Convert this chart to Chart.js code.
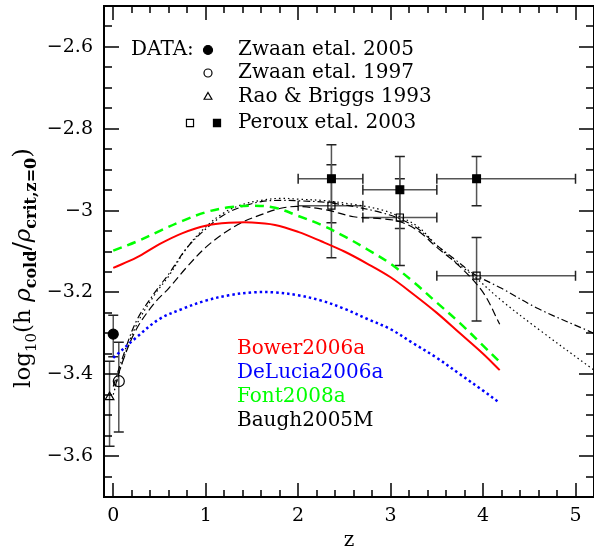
<!DOCTYPE html>
<html>
<head>
<meta charset="utf-8">
<script src="https://cdn.jsdelivr.net/npm/chart.js@4.4.0/dist/chart.umd.min.js"></script>
<style>
  html, body { margin: 0; padding: 0; background: #fff; }
</style>
</head>
<body>
<canvas id="chart" width="594" height="550"></canvas>
<script>
// model curves
const modelZ   = [0, 0.25, 0.5, 0.75, 1, 1.25, 1.5, 1.75, 2, 2.25, 2.5, 2.75, 3, 3.25, 3.5, 3.75, 4, 4.18];
const bowerV   = [-3.14, -3.115, -3.082, -3.055, -3.037, -3.03, -3.029, -3.035, -3.052, -3.075, -3.10, -3.13, -3.163, -3.205, -3.25, -3.30, -3.35, -3.39];
const deluciaV = [-3.36, -3.31, -3.265, -3.24, -3.22, -3.207, -3.2, -3.2, -3.207, -3.22, -3.24, -3.265, -3.29, -3.325, -3.36, -3.40, -3.44, -3.47];
const fontV    = [-3.098, -3.076, -3.05, -3.025, -3.004, -2.992, -2.988, -2.993, -3.013, -3.035, -3.063, -3.095, -3.13, -3.175, -3.225, -3.275, -3.33, -3.37];

// Baugh2005M, three black variants
const baughZ        = [0, 0.1, 0.25, 0.45, 0.6, 0.8, 1.0, 1.2, 1.4, 1.6, 1.8, 2.0, 2.3, 2.6, 2.9, 3.1, 3.3, 3.5, 3.7, 3.9, 4.2, 4.6, 5.2];
const baughDotDashV = [-3.43, -3.36, -3.27, -3.2, -3.155, -3.09, -3.045, -3.01, -2.99, -2.978, -2.975, -2.976, -2.98, -2.99, -3.005, -3.02, -3.045, -3.085, -3.12, -3.155, -3.19, -3.24, -3.30];
const baughDotV     = [-3.45, -3.37, -3.28, -3.205, -3.16, -3.09, -3.04, -3.005, -2.985, -2.975, -2.97, -2.972, -2.976, -2.985, -2.998, -3.015, -3.04, -3.085, -3.125, -3.16, -3.22, -3.29, -3.39];
const baughDashZ    = [0.02, 0.1, 0.25, 0.45, 0.6, 0.8, 1.0, 1.2, 1.4, 1.6, 1.8, 2.0, 2.3, 2.6, 2.9, 3.1, 3.3, 3.5, 3.75, 4.0, 4.18];
const baughDashV    = [-3.43, -3.37, -3.29, -3.225, -3.19, -3.137, -3.09, -3.055, -3.028, -3.01, -2.995, -2.99, -2.998, -3.015, -3.02, -3.027, -3.05, -3.09, -3.137, -3.2, -3.278];

// observations: [z, value, lower, upper, zLow, zHigh]
const zwaan05     = [[0, -3.302, -3.357, -3.256, 0, 0]];
const zwaan97     = [[0.06, -3.417, -3.541, -3.322, 0.06, 0.06]];
const raoBriggs   = [[-0.04, -3.456, -3.576, -3.368, -0.04, -0.04]];
const perouxOpen  = [[2.36, -2.988, -3.03, -2.888, 2.0, 2.7], [3.1, -3.017, -3.044, -2.922, 2.7, 3.5], [3.93, -3.159, -3.27, -3.066, 3.5, 5.0]];
const perouxFill  = [[2.36, -2.922, -3.115, -2.839, 2.0, 2.7], [3.1, -2.949, -3.134, -2.868, 2.7, 3.5], [3.93, -2.922, -2.988, -2.868, 3.5, 5.0]];

const xTicks = [0, 1, 2, 3, 4, 5];
const yTicks = [-3.6, -3.4, -3.2, -3, -2.8, -2.6];

const modelNames  = ['Bower2006a', 'DeLucia2006a', 'Font2008a', 'Baugh2005M'];
const modelColors = ['#ff0000', '#0000ff', '#00ff00', '#000000'];
const dataNames   = ['Zwaan etal. 2005', 'Zwaan etal. 1997', 'Rao & Briggs 1993', 'Peroux etal. 2003'];

const FONT = '"DejaVu Serif", "Liberation Serif", serif';

function pts(zs, vs) { return zs.map((z, i) => ({ x: z, y: vs[i] })); }
function obs(rows) { return rows.map(r => ({ x: r[0], y: r[1] })); }

function line(data, color, width, dash, order) {
  return { data: data, borderColor: color, borderWidth: width, borderDash: dash, borderCapStyle: 'butt',
           pointRadius: 0, fill: false, tension: 0.35, order: order };
}
function marks(data, style, r, filled, order) {
  return { data: data, showLine: false, pointStyle: style, pointRadius: r, pointHoverRadius: r,
           pointBorderColor: '#000', pointBorderWidth: 1.2,
           pointBackgroundColor: filled ? '#000' : 'rgba(0,0,0,0)', order: order };
}

const datasets = [
  line(pts(baughZ, baughDotDashV), '#000', 1.2, [7, 3, 1.5, 3], 10),
  line(pts(baughZ, baughDotV), '#000', 1.2, [1.5, 3], 10),
  line(pts(baughDashZ, baughDashV), '#000', 1.2, [8, 4], 10),
  line(pts(modelZ, deluciaV), '#0000ff', 2.5, [2.5, 3], 9),
  line(pts(modelZ, fontV), '#00ff00', 2.5, [9, 6], 8),
  line(pts(modelZ, bowerV), '#ff0000', 2, [], 7),
  marks(obs(zwaan05), 'circle', 5, true, 1),
  marks(obs(zwaan97), 'circle', 5.5, false, 1),
  marks(obs(raoBriggs), 'triangle', 5, false, 1),
  marks(obs(perouxOpen), 'rect', 5, false, 1),
  marks(obs(perouxFill), 'rect', 5.5, true, 1)
];

function drawErrorBars(chart) {
  const ctx = chart.ctx, xs = chart.scales.x, ys = chart.scales.y;
  ctx.save();
  ctx.setLineDash([]);
  ctx.lineWidth = 1.5;
  [zwaan05, zwaan97, raoBriggs, perouxOpen, perouxFill].forEach(rows => {
    rows.forEach(r => {
      const px = xs.getPixelForValue(r[0]), py = ys.getPixelForValue(r[1]);
      const lo = ys.getPixelForValue(r[2]), hi = ys.getPixelForValue(r[3]);
      ctx.strokeStyle = '#555';
      ctx.beginPath();
      ctx.moveTo(px, lo); ctx.lineTo(px, hi);
      if (r[4] !== r[5]) {
        ctx.moveTo(xs.getPixelForValue(r[4]), py); ctx.lineTo(xs.getPixelForValue(r[5]), py);
      }
      ctx.stroke();
      ctx.strokeStyle = '#222';
      ctx.beginPath();
      ctx.moveTo(px - 5, lo); ctx.lineTo(px + 5, lo);
      ctx.moveTo(px - 5, hi); ctx.lineTo(px + 5, hi);
      if (r[4] !== r[5]) {
        const a = xs.getPixelForValue(r[4]), b = xs.getPixelForValue(r[5]);
        ctx.moveTo(a, py - 5); ctx.lineTo(a, py + 5);
        ctx.moveTo(b, py - 5); ctx.lineTo(b, py + 5);
      }
      ctx.stroke();
    });
  });
  ctx.restore();
}

// frame with inward major/minor ticks on all four sides
function drawFrame(chart) {
  const ctx = chart.ctx, xs = chart.scales.x, ys = chart.scales.y, a = chart.chartArea;
  ctx.save();
  ctx.setLineDash([]);
  ctx.fillStyle = '#000';
  for (let i = 0; i <= 26; i++) {
    const px = Math.round(xs.getPixelForValue(i * 0.2));
    const len = i % 5 === 0 ? 14 : 7;
    ctx.fillRect(px - 0.75, a.bottom - len, 1.5, len);
    ctx.fillRect(px - 0.75, a.top, 1.5, len);
  }
  for (let i = 0; i <= 24; i++) {
    const py = Math.round(ys.getPixelForValue(-3.7 + i * 0.05));
    const len = (i + 2) % 4 === 0 ? 15 : 8;
    ctx.fillRect(a.left, py - 0.75, len, 1.5);
    ctx.fillRect(a.right - len, py - 0.75, len, 1.5);
  }
  ctx.strokeStyle = '#000';
  ctx.lineWidth = 2;
  ctx.strokeRect(a.left, a.top, a.right - a.left, a.bottom - a.top);
  ctx.restore();
}

function drawTexts(chart) {
  const ctx = chart.ctx, a = chart.chartArea;
  ctx.save();
  ctx.setLineDash([]);
  ctx.fillStyle = '#000';
  ctx.textBaseline = 'middle';
  ctx.textAlign = 'left';
  ctx.font = '20px ' + FONT;

  // data legend
  const rowY = [50, 73, 97, 123];
  ctx.fillText('DATA:', 131, rowY[0]);
  dataNames.forEach((t, i) => ctx.fillText(t, 238, rowY[i]));
  const dp = Chart.helpers.drawPoint;
  ctx.strokeStyle = '#000';
  ctx.lineWidth = 1.2;
  ctx.fillStyle = '#000';
  dp(ctx, { pointStyle: 'circle', radius: 4.5, borderWidth: 1.2 }, 208, rowY[0]);
  ctx.fillStyle = 'rgba(0,0,0,0)';
  dp(ctx, { pointStyle: 'circle', radius: 4, borderWidth: 1.2 }, 208, rowY[1]);
  dp(ctx, { pointStyle: 'triangle', radius: 4.5, borderWidth: 1.2 }, 208, rowY[2]);
  dp(ctx, { pointStyle: 'rect', radius: 5, borderWidth: 1.2 }, 190, rowY[3]);
  ctx.fillStyle = '#000';
  dp(ctx, { pointStyle: 'rect', radius: 5, borderWidth: 1.2 }, 217, rowY[3]);

  // model names
  const modelY = [349, 373, 397, 421];
  modelNames.forEach((t, i) => {
    ctx.fillStyle = modelColors[i];
    ctx.fillText(t, 237, modelY[i]);
  });

  // x title
  ctx.fillStyle = '#000';
  ctx.textAlign = 'center';
  ctx.fillText('z', (a.left + a.right) / 2, 541);

  // y title with subscripts
  const parts = [
    ['log', '23px ' + FONT, 0],
    ['10', '15px ' + FONT, 6],
    ['(h ', '23px ' + FONT, 0],
    ['\u03C1', 'italic 23px ' + FONT, 0],
    ['cold', 'bold 16px ' + FONT, 6],
    ['/', '25px ' + FONT, 0],
    ['\u03C1', 'italic 23px ' + FONT, 0],
    ['crit,z=0', 'bold 16px ' + FONT, 6],
    [')', '25px ' + FONT, 0]
  ];
  let total = 0;
  parts.forEach(p => { ctx.font = p[1]; total += ctx.measureText(p[0]).width; });
  ctx.translate(22, 268);
  ctx.rotate(-Math.PI / 2);
  ctx.textAlign = 'left';
  ctx.textBaseline = 'alphabetic';
  let x = -total / 2;
  parts.forEach(p => {
    ctx.font = p[1];
    ctx.fillText(p[0], x, 8 + p[2]);
    x += ctx.measureText(p[0]).width;
  });
  ctx.restore();
}

const decor = {
  id: 'decor',
  beforeDatasetsDraw(chart) { drawErrorBars(chart); },
  afterDraw(chart) { drawFrame(chart); drawTexts(chart); }
};

new Chart(document.getElementById('chart').getContext('2d'), {
  type: 'line',
  data: { datasets: datasets },
  options: {
    responsive: false,
    animation: false,
    devicePixelRatio: 1,
    layout: { autoPadding: false, padding: { top: 6, right: 0, left: 0, bottom: 0 } },
    plugins: { legend: { display: false }, tooltip: { enabled: false } },
    scales: {
      x: {
        type: 'linear', min: -0.1, max: 5.2,
        grid: { display: false, drawTicks: false },
        border: { display: false },
        afterBuildTicks: s => { s.ticks = xTicks.map(v => ({ value: v })); },
        afterFit: s => { s.height = 53; s.paddingLeft = 0; s.paddingRight = 0; },
        ticks: { color: '#000', font: { family: FONT, size: 19 }, padding: 8, maxRotation: 0, autoSkip: false,
                 callback: v => String(v) }
      },
      y: {
        type: 'linear', min: -3.7, max: -2.5,
        grid: { display: false, drawTicks: false },
        border: { display: false },
        afterBuildTicks: s => { s.ticks = yTicks.map(v => ({ value: v })); },
        afterFit: s => { s.width = 104; s.paddingTop = 0; s.paddingBottom = 0; },
        ticks: { color: '#000', font: { family: FONT, size: 19 }, padding: 11, autoSkip: false,
                 callback: v => v === -3 ? '\u22123' : '\u2212' + Math.abs(v).toFixed(1) }
      }
    }
  },
  plugins: [decor]
});
</script>
</body>
</html>
